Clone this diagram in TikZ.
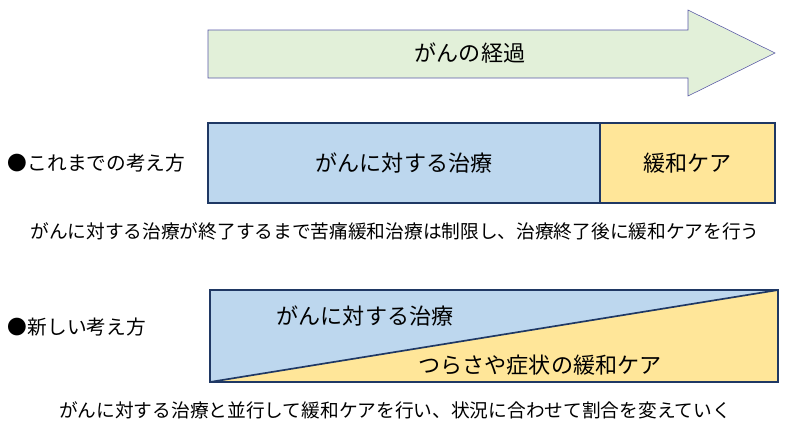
\documentclass[tikz,border=0pt]{standalone}
\usepackage{fontspec}
\setmainfont{Noto Sans CJK JP}
\definecolor{arrowgreen}{HTML}{E2F0D9}
\definecolor{cureblue}{HTML}{BDD7EE}
\definecolor{careyellow}{HTML}{FFE699}
\definecolor{edgeblue}{HTML}{1F3864}
\tikzset{
  label/.style={font=\fontsize{15.7}{18}\selectfont},
  heading/.style={font=\fontsize{14}{16}\selectfont},
  caption/.style={font=\fontsize{13.3}{15}\selectfont},
}
\begin{document}
\begin{tikzpicture}[x=0.025cm,y=-0.025cm]
    \useasboundingbox (0,0) rectangle (800,437);
    % Progress arrow
    \draw[fill=arrowgreen, draw=gray!70!blue] (208,30) -- (688,30) -- (688,10) -- (775,53) -- (688,96) -- (688,78) -- (208,78) -- cycle;
    \node[label] (course) at (470,53) {がんの経過};

    % Old approach
    \node[heading, anchor=west] (oldtitle) at (3,163) {●これまでの考え方};
    \draw[thick, draw=edgeblue, fill=cureblue] (208,123) rectangle (600,203) node[midway, label] (oldcure) {がんに対する治療};
    \draw[thick, draw=edgeblue, fill=careyellow] (600,123) rectangle (775,203) node[midway, label] (oldcare) {緩和ケア};
    \node[caption] (oldnote) at (395,231) {がんに対する治療が終了するまで苦痛緩和治療は制限し、治療終了後に緩和ケアを行う};

    % New approach
    \node[heading, anchor=west] (newtitle) at (3,327) {●新しい考え方};
    \fill[cureblue] (210,290) -- (778,290) -- (210,382) -- cycle;
    \fill[careyellow] (778,290) -- (778,382) -- (210,382) -- cycle;
    \draw[thick, draw=edgeblue] (210,290) rectangle (778,382);
    \draw[very thick, draw=edgeblue] (210,382) -- (778,290);
    \node[label] (newcure) at (365,316) {がんに対する治療};
    \node[label] (newcare) at (540,365) {つらさや症状の緩和ケア};
    \node[caption] (newnote) at (395,410) {がんに対する治療と並行して緩和ケアを行い、状況に合わせて割合を変えていく};
\end{tikzpicture}
\end{document}
